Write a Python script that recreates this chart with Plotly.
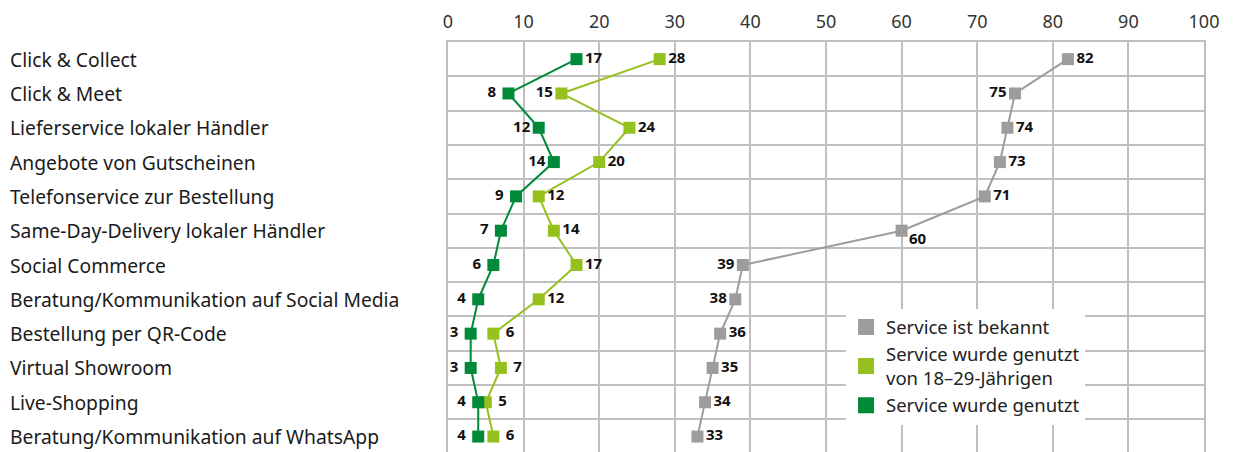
import plotly.graph_objects as go

categories = [
    "Click & Collect",
    "Click & Meet",
    "Lieferservice lokaler Händler",
    "Angebote von Gutscheinen",
    "Telefonservice zur Bestellung",
    "Same-Day-Delivery lokaler Händler",
    "Social Commerce",
    "Beratung/Kommunikation auf Social Media",
    "Bestellung per QR-Code",
    "Virtual Showroom",
    "Live-Shopping",
    "Beratung/Kommunikation auf WhatsApp",
]
bekannt = [82, 75, 74, 73, 71, 60, 39, 38, 36, 35, 34, 33]
genutzt_jung = [28, 15, 24, 20, 12, 14, 17, 12, 6, 7, 5, 6]
genutzt = [17, 8, 12, 14, 9, 7, 6, 4, 3, 3, 4, 4]
x_ticks = [0, 10, 20, 30, 40, 50, 60, 70, 80, 90, 100]

names = ["Service ist bekannt", "Service wurde genutzt<br>von 18–29-Jährigen", "Service wurde genutzt"]
colors = ["#9d9d9d", "#95c11f", "#008939"]

pos_bekannt = ["middle right", "middle left", "middle right", "middle right", "middle right",
               "middle right", "middle left", "middle left", "middle right", "middle right",
               "middle right", "middle right"]
pos_jung = ["middle right", "middle left"] + ["middle right"] * 10
pos_genutzt = ["middle right"] + ["middle left"] * 11
special = 5  # label of "Same-Day-Delivery" for bekannt placed lower right


def label(v, p):
    s = str(v)
    if len(s) == 1:
        s = " " + s if p.endswith("right") else s + " "
    return s


FONT = "Noto Sans"
LBL = dict(family=FONT, size=15, color="#111111", weight="bold")
fig = go.Figure()
for idx, (vals, col, pos) in enumerate([(bekannt, colors[0], pos_bekannt),
                                        (genutzt_jung, colors[1], pos_jung),
                                        (genutzt, colors[2], pos_genutzt)]):
    txt = [label(v, p) for v, p in zip(vals, pos)]
    if idx == 0:
        txt[special] = ""
    fig.add_trace(go.Scatter(
        x=vals, y=categories, mode="lines+markers+text",
        line=dict(color=col, width=2),
        marker=dict(symbol="square", size=12, color=col),
        text=txt, textposition=pos, textfont=LBL,
        showlegend=False, cliponaxis=False,
    ))
fig.add_annotation(x=bekannt[special], y=categories[special], text=str(bekannt[special]),
                   showarrow=False, xanchor="left", yanchor="middle", xshift=5, yshift=-7,
                   font=LBL)
# legend entries
for name, col in zip(names, colors):
    fig.add_trace(go.Scatter(
        x=[None], y=[None], mode="markers", name=name,
        marker=dict(symbol="square", size=18, color=col),
    ))

for c in categories:
    fig.add_annotation(x=-0.582, xref="paper", y=c, yref="y", text=c, showarrow=False,
                       xanchor="left", yanchor="middle",
                       font=dict(family=FONT, size=19.3, color="#1a1a1a"))

fig.update_layout(
    width=1226, height=444,
    margin=dict(l=440, r=30, t=34, b=0, autoexpand=False),
    paper_bgcolor="white", plot_bgcolor="white",
    font=dict(family=FONT, size=18, color="#222222"),
    xaxis=dict(range=[0, 100], side="top", tickvals=x_ticks, ticks="", automargin=False,
               showgrid=True, gridcolor="#bfbfbf", gridwidth=1.5, ticklabelstandoff=5,
               showline=True, linecolor="#bfbfbf", linewidth=1.5, zeroline=False,
               tickfont=dict(family=FONT, size=18, color="#333333")),
    yaxis=dict(type="category", categoryorder="array", categoryarray=categories,
               range=[11.45, -0.5], tickson="boundaries", showticklabels=False, ticks="",
               showgrid=True, gridcolor="#bfbfbf", gridwidth=1.5, automargin=False,
               showline=True, mirror=True, linecolor="#bfbfbf", linewidth=1.5),
    legend=dict(x=0.5265, y=0.35, xanchor="left", yanchor="top",
                bgcolor="white", borderwidth=0, tracegroupgap=0,
                font=dict(family=FONT, size=18.5, color="#222222"), itemsizing="trace"),
)
fig.write_html("out.html")
